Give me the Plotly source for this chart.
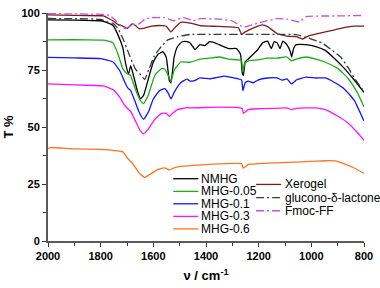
import plotly.graph_objects as go

# ---------------- data ----------------
nmhg_wn = [2000,1900,1800,1789,1753,1734,1716,1705,1694,1686,1673,1661,1649,1637,1618,1600,1582,1563,1551,1539,
           1533,1521,1508,1490,1472,1460,1441,1423,1405,1386,1368,1350,1313,1284,1269,1262,1258,1251,1240,1221,
           1203,1185,1166,1152,1141,1130,1119,1108,1093,1079,1075,1067,1057,1020,983,947,910,874,837,800]
nmhg_t = [97.0,96.9,96.6,96.3,94.5,90.3,84.8,77.7,73.3,76.9,71.5,66.0,62.4,63.9,71.5,78.5,81.9,83.0,80.6,70.2,
          69.4,80.6,85.3,87.4,87.4,86.8,84.0,86.1,85.7,87.4,87.0,86.1,84.4,84.4,81.9,73.5,72.7,78.6,79.8,81.9,
          84.0,86.9,87.7,84.4,87.4,87.0,84.4,87.7,86.1,82.8,80.7,84.5,86.1,86.1,85.3,83.6,79.8,75.6,70.6,65.2]

mhg005_wn = [2000,1900,1800,1789,1753,1734,1716,1701,1687,1668,1650,1637,1618,1594,1569,1557,1539,1533,1521,1496,
             1460,1423,1386,1350,1313,1277,1265,1260,1254,1240,1203,1166,1130,1093,1075,1057,1020,983,947,899,
             862,826,800]
mhg005_t = [88.2,88.3,88.1,88.1,86.9,81.9,75.6,73.5,72.7,66.4,61.8,60.3,64.4,72.7,75.6,75.4,71.5,70.1,74.8,78.5,
            78.4,79.8,80.2,80.7,79.8,79.4,79.0,74.4,77.7,79.0,79.4,80.2,80.2,80.7,79.0,79.8,80.7,79.8,78.4,75.6,
            71.5,65.2,58.9]

mhg01_wn = [2000,1900,1800,1753,1728,1710,1698,1686,1673,1655,1637,1618,1600,1576,1557,1545,1533,1521,1496,1472,
            1460,1441,1423,1386,1350,1331,1295,1265,1260,1251,1240,1221,1203,1166,1130,1112,1093,1075,1057,1020,
            983,947,910,874,837,800]
mhg01_t = [80.5,80.3,80.0,78.5,74.8,70.1,67.3,66.0,62.3,56.8,53.4,56.8,62.3,66.0,66.8,65.2,62.3,65.2,69.4,71.0,
           70.1,70.5,71.5,71.1,71.9,72.3,71.5,70.6,66.0,69.4,70.1,69.4,70.6,71.5,71.5,70.6,71.1,68.9,70.6,71.9,
           71.5,71.5,69.4,66.6,61.7,52.6]

mhg03_wn = [2000,1900,1800,1789,1753,1728,1710,1698,1686,1668,1650,1637,1618,1594,1569,1551,1539,1527,1508,1472,
            1460,1350,1277,1262,1258,1240,1203,1130,1093,1075,1057,983,947,899,862,826,800]
mhg03_t = [68.9,68.5,68.1,68.0,66.4,63.1,59.7,58.1,56.8,52.6,48.4,47.0,49.3,53.4,56.0,56.0,54.7,56.0,57.6,58.5,
           58.4,58.7,58.5,58.0,56.0,57.6,58.0,58.2,58.4,57.6,58.2,58.4,57.6,54.7,51.9,47.7,44.2]

mhg06_wn = [2000,1990,1900,1800,1778,1716,1698,1680,1655,1633,1612,1582,1557,1539,1521,1490,1460,1350,1265,1258,
            1240,1130,1057,983,947,910,874,837,800]
mhg06_t = [40.6,41.0,40.4,40.2,40.1,39.1,36.3,34.2,30.0,27.9,29.3,31.4,32.1,31.1,32.1,32.8,33.1,33.8,33.9,32.0,
           33.5,34.3,34.6,35.0,35.2,35.1,33.8,32.0,29.6]

xerogel_wn = [2000,1900,1800,1789,1753,1734,1716,1698,1680,1668,1654,1632,1606,1569,1551,1533,1515,1496,1460,1423,
              1350,1277,1265,1254,1221,1185,1166,1130,1093,1057,1033,1010,947,888,837,800]
xerogel_t = [99.2,99.0,98.8,98.7,96.6,94.9,94.2,93.3,95.2,94.5,93.1,93.4,94.2,94.5,94.2,91.7,94.0,95.9,95.6,94.5,
             94.1,93.5,90.7,91.5,93.4,94.8,94.0,91.0,89.9,89.6,88.6,90.0,91.7,93.3,94.2,94.2]

gdl_wn = [2000,1900,1800,1771,1753,1734,1716,1692,1669,1643,1633,1618,1596,1569,1545,1508,1460,1350,1240,1130,
          1057,1010,960,925,888,860,837,800]
gdl_t = [97.6,97.5,97.2,96.0,95.5,93.1,88.9,81.9,75.6,72.3,70.8,74.9,81.2,85.4,88.2,89.6,90.6,90.6,90.6,90.6,
         90.5,89.0,86.9,84.0,80.6,76.0,71.5,65.5]

fmoc_wn = [2000,1900,1789,1765,1742,1723,1705,1679,1655,1632,1606,1582,1558,1522,1485,1449,1423,1350,1302,1258,
           1192,1130,1093,1045,1020,910,811]
fmoc_t = [99.7,99.6,99.4,98.9,96.6,94.5,93.2,95.0,95.2,97.3,98.0,98.0,98.0,96.6,98.0,96.6,97.5,97.3,96.6,93.8,
          95.9,97.5,97.3,96.1,98.4,98.7,98.9]

x_ticks = [2000, 1800, 1600, 1400, 1200, 1000, 800]
y_ticks = [0, 25, 50, 75, 100]

series = [
    ("NMHG", nmhg_wn, nmhg_t, "#000000", "solid"),
    ("MHG-0.05", mhg005_wn, mhg005_t, "#1aad1a", "solid"),
    ("MHG-0.1", mhg01_wn, mhg01_t, "#1414ff", "solid"),
    ("MHG-0.3", mhg03_wn, mhg03_t, "#ff14ff", "solid"),
    ("MHG-0.6", mhg06_wn, mhg06_t, "#ff7518", "solid"),
    ("Xerogel", xerogel_wn, xerogel_t, "#7d1c1c", "solid"),
    ("glucono-δ-lactone", gdl_wn, gdl_t, "#2f3d3d", "8px,3px,2px,3px"),
    ("Fmoc-FF", fmoc_wn, fmoc_t, "#c050f0", "8px,3px,2px,3px"),
]

fig = go.Figure()
for name, wn, t, col, dash in series:
    fig.add_trace(go.Scatter(x=wn, y=t, mode="lines", name=name,
                             line=dict(color=col, width=1.3, dash=dash, shape="spline", smoothing=0.4)))

FONT = "Liberation Sans, Arial, sans-serif"
L, R, T, B = 42, 10, 7, 42
W, H = 380, 288
pw, ph = W - L - R, H - T - B

def px2paper(x, y):
    return (x - L) / pw, (H - B - y) / ph

# manual two-column legend (compact spacing like the reference)
col1 = series[:5]
col2 = series[5:]
col1_y = [180.7, 194.0, 207.0, 220.2, 233.3]
col2_y = [186.7, 200.5, 214.3]
for (name, _, _, col, dash), y in list(zip(col1, col1_y)):
    x0, yy = px2paper(172, y)
    x1, _ = px2paper(198, y)
    fig.add_shape(type="line", xref="paper", yref="paper", x0=x0, x1=x1, y0=yy, y1=yy,
                  line=dict(color=col, width=1.3, dash=dash))
    xt, _ = px2paper(199, y)
    fig.add_annotation(xref="paper", yref="paper", x=xt, y=yy, text=name, showarrow=False,
                       xanchor="left", yanchor="middle", font=dict(family=FONT, size=12, color="#000"))
for (name, _, _, col, dash), y in list(zip(col2, col2_y)):
    x0, yy = px2paper(258, y)
    x1, _ = px2paper(284, y)
    fig.add_shape(type="line", xref="paper", yref="paper", x0=x0, x1=x1, y0=yy, y1=yy,
                  line=dict(color=col, width=1.3, dash=dash))
    xt, _ = px2paper(286, y)
    fig.add_annotation(xref="paper", yref="paper", x=xt, y=yy, text=name, showarrow=False,
                       xanchor="left", yanchor="middle", font=dict(family=FONT, size=12, color="#000"))

axis_common = dict(showgrid=False, zeroline=False, showline=True, linecolor="#5a5a5a", linewidth=2,
                   ticks="outside", ticklen=4, tickwidth=1, tickcolor="#333",
                   tickfont=dict(family=FONT, size=11, color="#000", weight="bold"))

fig.update_layout(
    width=W, height=H, margin=dict(l=L, r=R, t=T, b=B),
    plot_bgcolor="white", paper_bgcolor="white", showlegend=False,
    xaxis=dict(range=[2000, 800], tickvals=x_ticks, ticktext=[str(v) for v in x_ticks],
               minor=dict(dtick=100, tick0=0, ticks="outside", ticklen=3, tickcolor="#333"),
               title=dict(text="ν / cm<sup>-1</sup>", font=dict(family=FONT, size=13, color="#000", weight="bold"),
                          standoff=10),
               **axis_common),
    yaxis=dict(range=[0, 100], tickvals=y_ticks, ticktext=[str(v) for v in y_ticks],
               minor=dict(dtick=12.5, tick0=0, ticks="outside", ticklen=3, tickcolor="#333"),
               title=dict(text="T %", font=dict(family=FONT, size=13, color="#000", weight="bold"), standoff=5),
               **axis_common),
)

fig.write_html("out.html", config={"displayModeBar": False},
               post_script="document.body.style.margin='0';document.body.style.padding='0';"
                           "document.body.style.overflow='hidden';")
